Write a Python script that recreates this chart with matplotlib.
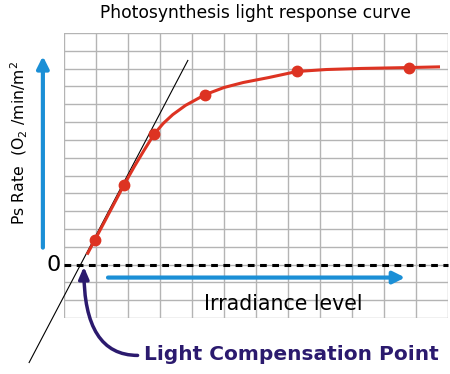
import matplotlib
matplotlib.use("Agg")
import matplotlib.pyplot as plt

# Curve samples (grid units)
CURVE_X = [0.72, 0.97, 1.4, 1.88, 2.2, 2.5, 2.82, 3.1, 3.4, 3.8, 4.41,
           5.0, 5.6, 6.4, 7.28, 8.2, 9.3, 10.78, 11.75]
CURVE_Y = [0.56, 1.40, 2.86, 4.49, 5.51, 6.41, 7.33, 7.92, 8.42, 8.94, 9.54,
           9.94, 10.22, 10.50, 10.84, 10.95, 11.01, 11.06, 11.10]
# Measured points
POINT_X = [0.97, 1.88, 2.82, 4.41, 7.28, 10.78]
POINT_Y = [1.40, 4.49, 7.33, 9.54, 10.84, 11.06]
# Tangent (initial slope) line end points
TANGENT_X = [-1.09, 3.87]
TANGENT_Y = [-5.5, 11.46]

TITLE = "Photosynthesis light response curve"
YLABEL = r"Ps Rate  (O$_2$ /min/m$^2$"
XLABEL = "Irradiance level"
LCP_LABEL = "Light Compensation Point"

RED = "#dd3322"
BLUE = "#1b8fd6"
PURPLE = "#2b1a6e"
GRID = "#b4b4b4"

W, H = 450, 374
fig = plt.figure(figsize=(W / 100, H / 100), dpi=100)
ax = fig.add_axes([64 / W, 1 - 318 / H, 384 / W, 285 / H])
ax.set_xlim(0, 12)
ax.set_ylim(-3, 13)
ax.set_xticks(range(0, 13))
ax.set_yticks(range(-3, 14))
ax.tick_params(length=0, labelleft=False, labelbottom=False)
ax.grid(True, color=GRID, linewidth=1.0)
for s in ax.spines.values():
    s.set_visible(False)

# zero line
ax.plot([0, 12], [0, 0], color="black", linewidth=2.2,
        linestyle=(0, (2.2, 1.8)), clip_on=False, zorder=3)

# tangent line
ax.plot(TANGENT_X, TANGENT_Y, color="black", linewidth=0.8,
        clip_on=False, zorder=4)

# response curve and points
ax.plot(CURVE_X, CURVE_Y, color=RED, linewidth=2.2, zorder=5,
        solid_capstyle="butt", solid_joinstyle="round")
ax.plot(POINT_X, POINT_Y, "o", color=RED, markersize=7.5, zorder=6)

# axis arrows
ax.annotate("", xy=(-0.66, 11.7), xytext=(-0.66, 0.95),
            annotation_clip=False,
            arrowprops=dict(arrowstyle="-|>,head_length=0.7,head_width=0.35",
                            color=BLUE, linewidth=3, shrinkA=0, shrinkB=0))
ax.annotate("", xy=(10.66, -0.73), xytext=(1.375, -0.73),
            annotation_clip=False,
            arrowprops=dict(arrowstyle="-|>,head_length=0.7,head_width=0.35",
                            color=BLUE, linewidth=3, shrinkA=0, shrinkB=0))

ax.text(-0.1, 0, "0", fontsize=16, ha="right", va="center")
ax.text(6.84, -2.2, XLABEL, fontsize=14.8, ha="center", va="center",
        color="black")

fig.text(255 / W, 1 - 13 / H, TITLE, fontsize=12.3, ha="center", va="center")
fig.text(19 / W, 1 - 143 / H, YLABEL, fontsize=11.3, rotation=90,
         ha="center", va="center")

# Light compensation point
ax.annotate("", xy=(0.62, -0.12), xytext=(2.3, -5.1),
            annotation_clip=False,
            arrowprops=dict(arrowstyle="-|>,head_length=0.7,head_width=0.3",
                            color=PURPLE, linewidth=2.5, shrinkA=0, shrinkB=0,
                            connectionstyle="angle3,angleA=0,angleB=90"))
ax.text(2.5, -5.05, LCP_LABEL, fontsize=14.5, fontweight="bold",
        color=PURPLE, ha="left", va="center")

fig.savefig("out.png", dpi=100)
